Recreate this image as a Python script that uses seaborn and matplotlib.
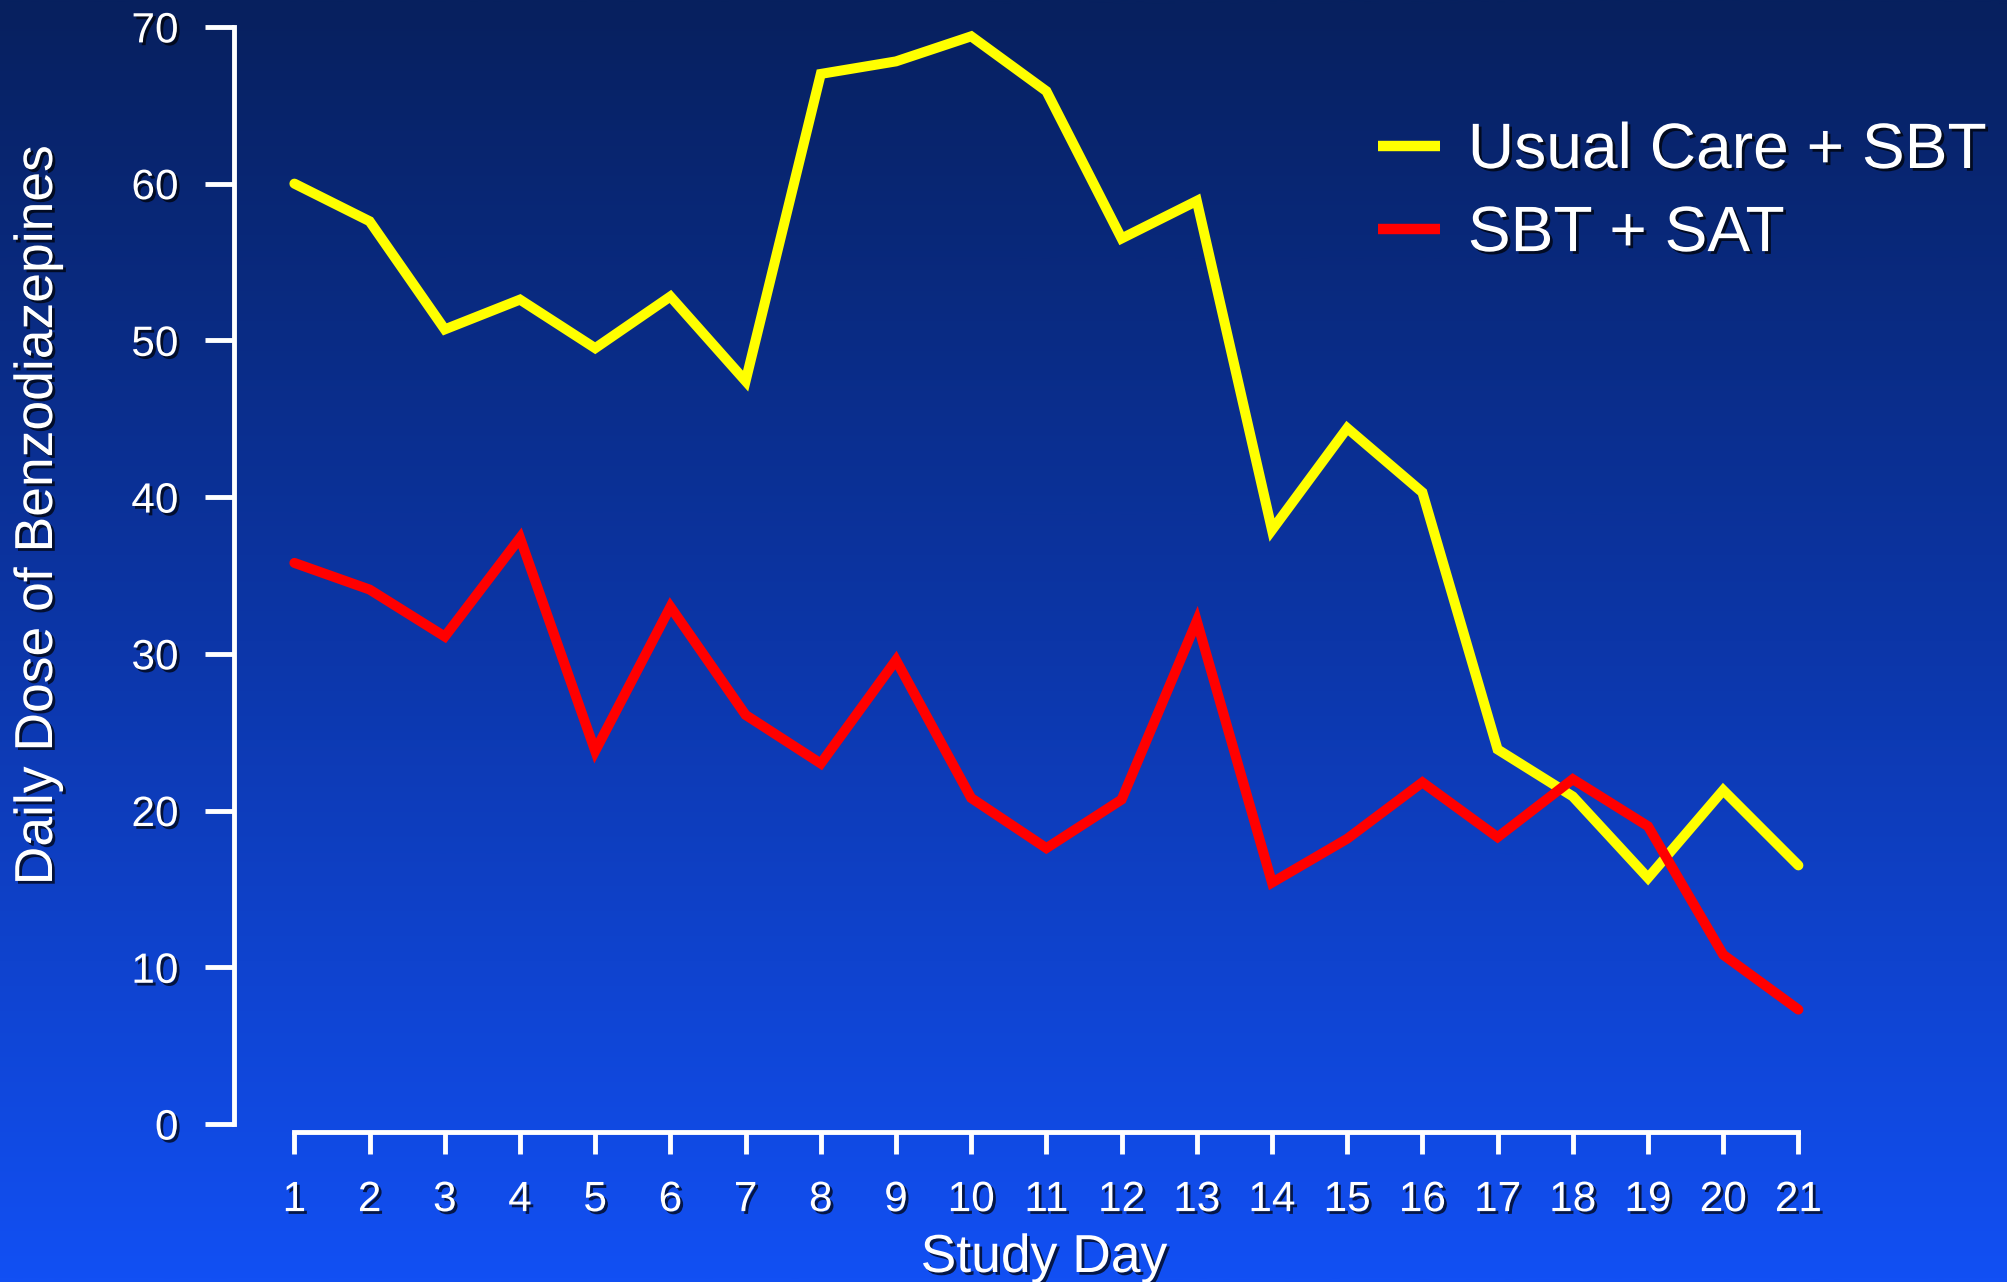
import numpy as np
import pandas as pd
import matplotlib
matplotlib.use("Agg")
import matplotlib.pyplot as plt
import matplotlib.patheffects as pe
from matplotlib.colors import LinearSegmentedColormap
import seaborn as sns

# Daily benzodiazepine dose per study day, by treatment arm
days = list(range(1, 22))
usual_care_sbt = [60.0, 57.6, 50.7, 52.6, 49.5, 52.8, 47.4, 67.0, 67.8, 69.4, 65.9,
                  56.5, 58.9, 37.9, 44.4, 40.3, 23.9, 20.9, 15.7, 21.3, 16.5]
sbt_sat = [35.8, 34.1, 31.1, 37.4, 23.8, 33.0, 26.1, 23.0, 29.6, 20.8, 17.6,
           20.7, 32.1, 15.4, 18.2, 21.8, 18.3, 22.0, 19.0, 10.8, 7.3]
series_names = ["Usual Care + SBT", "SBT + SAT"]
series_colors = ["#ffff00", "#ff0000"]
y_ticks = [0, 10, 20, 30, 40, 50, 60, 70]

df = pd.DataFrame({
    "Study Day": days * 2,
    "Dose": usual_care_sbt + sbt_sat,
    "Arm": [series_names[0]] * len(days) + [series_names[1]] * len(days),
})

sns.set_theme(style="ticks")
plt.rcParams["font.family"] = ["Liberation Sans", "DejaVu Sans"]

W, H = 2007, 1282
fig = plt.figure(figsize=(W / 100, H / 100), dpi=100)

# vertical navy-to-blue gradient behind everything
bg = fig.add_axes([0, 0, 1, 1], zorder=-10)
grad = np.linspace(0, 1, 512).reshape(-1, 1)
cmap = LinearSegmentedColormap.from_list("bg", ["#07205e", "#0c36a8", "#1250f4"])
bg.imshow(grad, aspect="auto", cmap=cmap, extent=[0, 1, 0, 1], origin="upper")
bg.set_axis_off()

# axes frame in pixels: left spine, right edge, top (y=70), bottom spine
left_px, right_px, top_px, bottom_px = 234, 1850, 26.9, 1131.5
day1_px, day21_px, zero_px = 294.4, 1798.4, 1124.0
ax = fig.add_axes([left_px / W, 1 - bottom_px / H,
                   (right_px - left_px) / W, (bottom_px - top_px) / H])
ax.set_facecolor("none")

sns.lineplot(data=df, x="Study Day", y="Dose", hue="Arm",
             palette=dict(zip(series_names, series_colors)),
             linewidth=7.2, ax=ax, legend=False)
for ln in ax.lines:
    ln.set_solid_joinstyle("miter")
    ln.set_clip_on(False)

day_px = (day21_px - day1_px) / 20
ax.set_xlim(1 - (day1_px - left_px) / day_px, 21 + (right_px - day21_px) / day_px)
unit_px = (zero_px - top_px) / 70
ax.set_ylim(-(bottom_px - zero_px) / unit_px, 70)

for s in ["top", "right"]:
    ax.spines[s].set_visible(False)
for s in ["left", "bottom"]:
    ax.spines[s].set_color("white")
    ax.spines[s].set_linewidth(3.5)
ax.spines["left"].set_bounds(0, 70)
ax.spines["bottom"].set_bounds(1, 21)

ax.set_xticks(days)
ax.set_yticks(y_ticks)
shadow = [pe.withSimplePatchShadow(offset=(2, -2), shadow_rgbFace="black", alpha=0.7)]
ax.tick_params(axis="y", colors="white", length=21, width=3.5, pad=19, labelsize=30.5)
ax.tick_params(axis="x", colors="white", length=16, width=3.5, pad=19, labelsize=30.5)
for lab in ax.get_xticklabels() + ax.get_yticklabels():
    lab.set_path_effects(shadow)

ax.set_xlabel("")
ax.set_ylabel("")
fig.text(1044 / W, 1 - 1272 / H, "Study Day", color="white", fontsize=38.5,
         ha="center", va="baseline", path_effects=shadow)
fig.text(38 / W, 1 - 515 / H, "Daily Dose of Benzodiazepines", color="white",
         fontsize=38.5, rotation=90, ha="center", va="center", path_effects=shadow)

handles = [plt.Line2D([], [], color=c, linewidth=7.5, solid_capstyle="butt")
           for c in series_colors]
leg = ax.legend(handles, series_names, loc="upper left",
                bbox_to_anchor=(1378 / W, 1 - 121 / H), bbox_transform=fig.transFigure,
                frameon=False, fontsize=46.2, handlelength=0.97, handletextpad=0.43,
                labelspacing=0.36, borderpad=0, borderaxespad=0)
for t in leg.get_texts():
    t.set_color("white")
    t.set_path_effects(shadow)

fig.savefig("out.png", dpi=100)
